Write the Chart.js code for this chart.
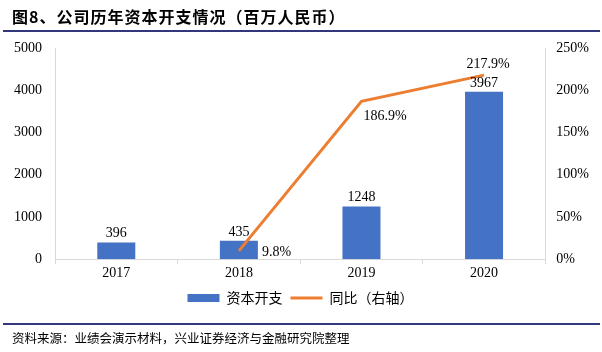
<!DOCTYPE html>
<html><head><meta charset="utf-8">
<script src="https://cdn.jsdelivr.net/npm/chart.js@4"></script>
<style>
html,body{margin:0;padding:0;background:#fff;}
#wrap{position:relative;width:602px;height:352px;overflow:hidden;}
#title{position:absolute;left:12px;top:4px;font:bold 16px "Noto Sans CJK SC","Liberation Serif",serif;color:#000;white-space:nowrap;letter-spacing:1px;}
#tline{position:absolute;left:3px;right:2px;top:30px;height:2px;background:#33367A;}
#fline{position:absolute;left:3px;right:2px;top:323px;height:2px;background:#33367A;}
#foot{position:absolute;left:12px;top:328px;font:12.5px "Noto Sans CJK SC",serif;color:#000;white-space:nowrap;}
#c{position:absolute;left:0;top:0;}
</style></head>
<body><div id="wrap">
<canvas id="c" width="602" height="352"></canvas>
<div id="title">图8、公司历年资本开支情况（百万人民币）</div>
<div id="tline"></div>
<div id="fline"></div>
<div id="foot">资料来源：业绩会演示材料，兴业证券经济与金融研究院整理</div>
</div>
<script>
const categories = ['2017', '2018', '2019', '2020'];
const capex = [396, 435, 1248, 3967];
const yoy = [null, 9.8, 186.9, 217.9];
const seriesNames = ['资本开支', '同比（右轴）'];
const leftTicks = [0, 1000, 2000, 3000, 4000, 5000];
const rightTicks = [0, 50, 100, 150, 200, 250];

const BLUE = '#4472C4', ORANGE = '#ED7D31', GRID = '#D9D9D9';
const NUMFONT = '"Liberation Serif", "Times New Roman", serif';
const CJKFONT = '"Noto Sans CJK SC", sans-serif';

const labelPlugin = {
  id: 'valueLabels',
  afterDatasetsDraw(chart) {
    const ctx = chart.ctx;
    ctx.save();
    ctx.font = '14px ' + NUMFONT;
    ctx.fillStyle = '#000';
    ctx.textAlign = 'center';
    ctx.textBaseline = 'alphabetic';
    chart.getDatasetMeta(0).data.forEach((el, i) => {
      ctx.fillText(String(capex[i]), el.x, el.y - 5);
    });
    const meta = chart.getDatasetMeta(1);
    meta.data.forEach((el, i) => {
      if (yoy[i] == null) return;
      const t = yoy[i].toFixed(1) + '%';
      if (i === 1) { ctx.textAlign = 'left'; ctx.textBaseline = 'middle'; ctx.fillText(t, el.x + 23, el.y + 1); }
      else if (i === 2) { ctx.textAlign = 'left'; ctx.textBaseline = 'middle'; ctx.fillText(t, el.x + 2, el.y + 15); }
      else { ctx.textAlign = 'center'; ctx.textBaseline = 'alphabetic'; ctx.fillText(t, el.x + 4, el.y - 7); }
    });
    ctx.restore();
  }
};

new Chart(document.getElementById('c'), {
  data: {
    labels: categories,
    datasets: [
      { type: 'bar', label: seriesNames[0], data: capex, backgroundColor: BLUE, yAxisID: 'y', barPercentage: 0.31, categoryPercentage: 1.0, order: 2 },
      { type: 'line', label: seriesNames[1], data: yoy, borderColor: ORANGE, borderWidth: 3, pointRadius: 0, yAxisID: 'y1', order: 1, spanGaps: false, tension: 0 }
    ]
  },
  options: {
    responsive: false,
    animation: false,
    layout: { padding: { top: 48, left: 1, right: 2, bottom: 37 } },
    plugins: {
      tooltip: { enabled: false },
      legend: {
        position: 'bottom',
        labels: {
          usePointStyle: true,
          pointStyleWidth: 32,
          boxHeight: 8,
          padding: 8,
          color: '#000',
          font: { family: CJKFONT, size: 14 },
          generateLabels(chart) {
            return [
              { text: seriesNames[0], pointStyle: 'rect', fillStyle: BLUE, strokeStyle: BLUE, lineWidth: 0, datasetIndex: 0 },
              { text: seriesNames[1], pointStyle: 'line', fillStyle: ORANGE, strokeStyle: ORANGE, lineWidth: 3, datasetIndex: 1 }
            ];
          }
        }
      }
    },
    scales: {
      x: {
        offset: true,
        grid: { display: true, drawOnChartArea: false, drawTicks: true, tickLength: 5, color: GRID, offset: true },
        border: { color: GRID, width: 1 },
        ticks: { color: '#000', font: { family: NUMFONT, size: 14 }, padding: 1 }
      },
      y: {
        position: 'left', min: 0, max: 5000,
        afterBuildTicks(axis) { axis.ticks = leftTicks.map(v => ({ value: v })); },
        grid: { display: false, drawTicks: false },
        border: { display: true, color: GRID, width: 1 },
        ticks: { color: '#000', font: { family: NUMFONT, size: 14 }, padding: 13, callback: v => String(v) }
      },
      y1: {
        position: 'right', min: 0, max: 250,
        afterBuildTicks(axis) { axis.ticks = rightTicks.map(v => ({ value: v })); },
        grid: { display: false, drawTicks: false },
        border: { display: true, color: GRID, width: 1 },
        ticks: { color: '#000', font: { family: NUMFONT, size: 14 }, padding: 11, callback: v => v + '%' }
      }
    }
  },
  plugins: [labelPlugin]
});
</script>
</body></html>
